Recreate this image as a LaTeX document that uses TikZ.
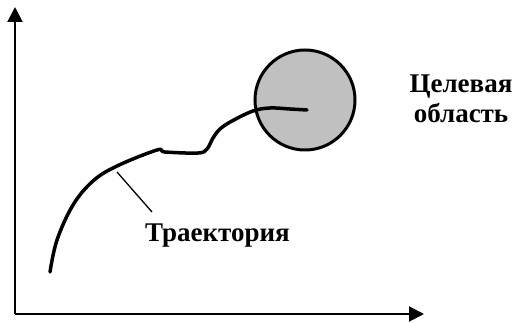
\documentclass[tikz,border=0pt]{standalone}
\usepackage{fontspec}
\setmainfont{Liberation Serif}
\usetikzlibrary{arrows.meta}
\tikzset{
  axis/.style={line width=2pt, -{Triangle[length=15pt,width=15pt]}},
  lbl/.style={font=\fontsize{27}{30}\selectfont\bfseries, inner sep=0pt, anchor=base},
  traj/.style={line width=3.5pt, line cap=round, line join=round},
  leader/.style={line width=1.3pt}
}
\begin{document}
\begin{tikzpicture}[x=1pt,y=-1pt]
\useasboundingbox (0,0) rectangle (515,323);
\coordinate (O) at (15,314);
\coordinate (ytip) at (15,7);
\coordinate (xtip) at (424,314);
\draw[axis] (O) -- (ytip);
\draw[axis] (O) -- (xtip);
\node[circle, draw, line width=3pt, fill={rgb,255:red,192;green,192;blue,192}, minimum size=100pt, inner sep=0pt] (target) at (305,100) {};
\draw[traj] plot[smooth, tension=0.6] coordinates {(50,272) (57,240) (73,205) (93,181) (117,166) (157,150) (165,152) (198,153) (207,149) (213,138) (220,129) (232,121) (253,111) (270,108) (290,109) (307,110)};
\node[lbl] (tl1) at (461,93) {Целевая};
\node[lbl] (tl2) at (461,123) {область};
\node[lbl, anchor=base west] (trlabel) at (145,242) {Траектория};
\coordinate (lead1) at (117,172);
\coordinate (lead2) at (152,212);
\draw[leader] (lead1) -- (lead2);
\end{tikzpicture}
\end{document}
